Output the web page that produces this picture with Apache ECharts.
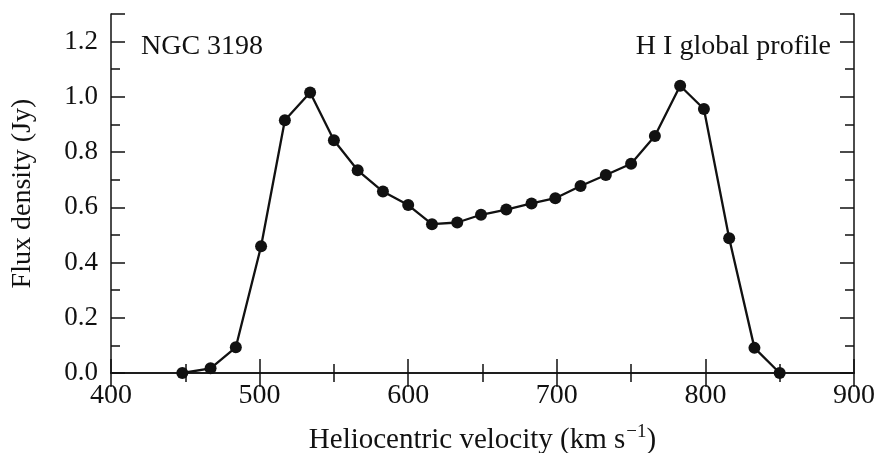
<!DOCTYPE html>
<html>
<head>
<meta charset="utf-8">
<script src="https://cdn.jsdelivr.net/npm/echarts@6/dist/echarts.min.js"></script>
<style>
  html, body { margin: 0; padding: 0; background: #fff; }
  #chart { width: 876px; height: 453px; }
</style>
</head>
<body>
<div id="chart"></div>
<script>
// HI global profile of NGC 3198: heliocentric velocity (km/s) vs flux density (Jy)
const velocity = [448, 467, 484, 501, 517, 534, 550, 566, 583, 600, 616, 633, 649,
                  666, 683, 699, 716, 733, 750, 766, 783, 799, 816, 833, 850];
const flux = [0.000, 0.017, 0.093, 0.459, 0.915, 1.016, 0.843, 0.734, 0.657, 0.608,
              0.539, 0.545, 0.573, 0.592, 0.614, 0.633, 0.677, 0.717, 0.758, 0.858,
              1.040, 0.956, 0.488, 0.091, 0.000];
const xTicks = [400, 500, 600, 700, 800, 900];
const yTicks = ['0.0', '0.2', '0.4', '0.6', '0.8', '1.0', '1.2'];

const ink = '#111';
const font = '"Liberation Serif", "Times New Roman", serif';

const frameLine = { show: true, lineStyle: { color: ink, width: 1.5 } };
const majorTick = { show: true, inside: true, length: 14, lineStyle: { color: ink, width: 1.5 } };
const minorTick = { show: true, splitNumber: 2, length: 9, lineStyle: { color: ink, width: 1.5 } };

const xBase = {
  type: 'value', min: xTicks[0], max: xTicks[xTicks.length - 1], interval: 100,
  axisLine: frameLine, axisTick: majorTick, minorTick: minorTick,
  splitLine: { show: false }
};
const yBase = {
  type: 'value', min: 0, max: 1.3, interval: 0.2,
  axisLine: frameLine, axisTick: majorTick, minorTick: minorTick,
  splitLine: { show: false }
};

const chart = echarts.init(document.getElementById('chart'), null, { renderer: 'canvas' });
chart.setOption({
  backgroundColor: '#fff',
  animation: false,
  textStyle: { fontFamily: font, color: ink },
  title: [
    { text: 'NGC 3198', left: 136, top: 28,
      textStyle: { fontFamily: font, fontSize: 28, fontWeight: 'normal', color: ink } },
    { text: 'H I global profile', right: 40, top: 28,
      textStyle: { fontFamily: font, fontSize: 28, fontWeight: 'normal', color: ink } }
  ],
  grid: { left: 111, right: 22, top: 14, bottom: 80, containLabel: false, outerBoundsMode: 'none' },
  xAxis: [
    Object.assign({}, xBase, {
      position: 'bottom',
      axisLabel: { show: true, margin: 9, fontFamily: font, fontSize: 28, color: ink,
                   formatter: v => String(v) },
      name: '{t|Heliocentric velocity (km s}{sup|\u22121}{t|)}',
      nameLocation: 'middle', nameGap: 50,
      nameTextStyle: {
        fontFamily: font, color: ink,
        rich: {
          t: { fontFamily: font, fontSize: 29, color: ink, verticalAlign: 'bottom', lineHeight: 32 },
          sup: { fontFamily: font, fontSize: 19, color: ink, verticalAlign: 'top', lineHeight: 32, padding: [0, 0, 0, 1] }
        }
      }
    }),
    Object.assign({}, xBase, { position: 'top', axisLabel: { show: false } })
  ],
  yAxis: [
    Object.assign({}, yBase, {
      position: 'left',
      axisLabel: { show: true, margin: 13, fontFamily: font, fontSize: 27, color: ink,
                   showMaxLabel: false,
                   formatter: v => {
                     const s = v.toFixed(1);
                     return yTicks.includes(s) ? s : '';
                   } },
      name: 'Flux density (Jy)',
      nameLocation: 'middle', nameGap: 74,
      nameTextStyle: { fontFamily: font, fontSize: 28, color: ink }
    }),
    Object.assign({}, yBase, { position: 'right', axisLabel: { show: false } })
  ],
  series: [{
    type: 'line',
    data: velocity.map((v, i) => [v, flux[i]]),
    xAxisIndex: 0, yAxisIndex: 0,
    symbol: 'circle', symbolSize: 12,
    showAllSymbol: true,
    lineStyle: { color: ink, width: 2.3 },
    itemStyle: { color: ink },
    emphasis: { disabled: true },
    clip: false
  }]
});
</script>
</body>
</html>
